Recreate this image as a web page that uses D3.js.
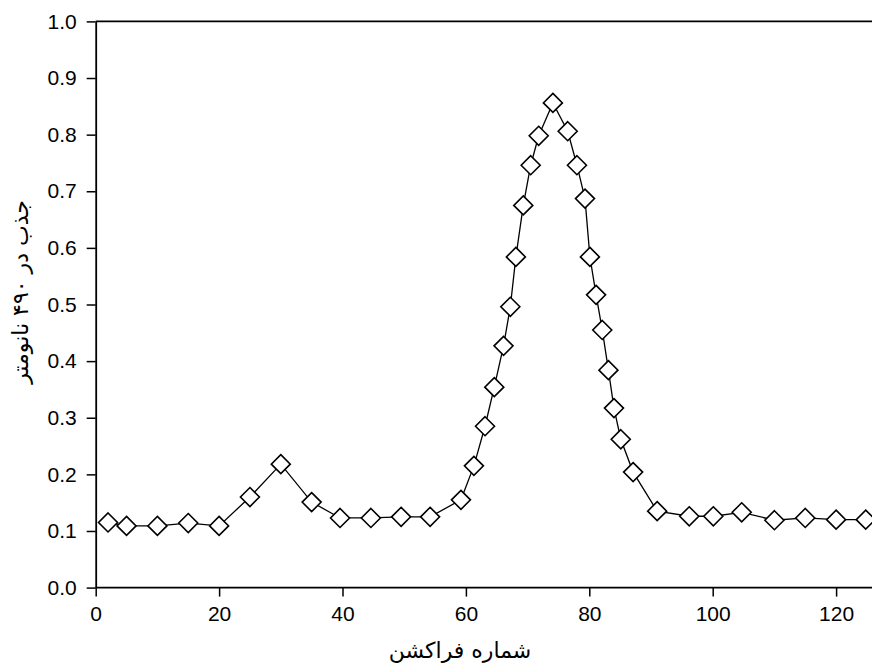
<!DOCTYPE html>
<html>
<head>
<meta charset="utf-8">
<script src="https://cdn.jsdelivr.net/npm/d3@7"></script>
<style>
  body { margin: 0; background: #fff; }
  svg { display: block; }
</style>
</head>
<body>
<div class="chart"></div>
<script>
var svgWidth = 872;
var svgHeight = 666;

// fraction number and absorbance at 490 nm
var fractions = [2, 5, 10, 15, 20, 25, 30, 35, 39.6, 44.6, 49.5, 54.2, 59.2, 61.3, 63.1, 64.6,
  66.1, 67.2, 68.1, 69.3, 70.5, 71.8, 74.1, 76.5, 78, 79.3, 80.1, 81.1, 82.1, 83.1, 84, 85.1,
  87.1, 91, 96.2, 100.1, 104.7, 110, 115, 120, 124.8];
var absorbance = [0.115, 0.109, 0.109, 0.114, 0.109, 0.16, 0.218, 0.151, 0.123, 0.123, 0.125, 0.125,
  0.155, 0.215, 0.285, 0.354, 0.427, 0.496, 0.584, 0.675, 0.746, 0.798, 0.856, 0.806, 0.746,
  0.687, 0.584, 0.517, 0.455, 0.384, 0.317, 0.262, 0.204, 0.135, 0.126, 0.126, 0.133, 0.119,
  0.123, 0.12, 0.12];
var xTicks = [0, 20, 40, 60, 80, 100, 120];
var yTicks = [0, 0.1, 0.2, 0.3, 0.4, 0.5, 0.6, 0.7, 0.8, 0.9, 1.0];

var data = fractions.map(function(f, i) { return { x: f, y: absorbance[i] }; });

var svg = d3.select(".chart")
  .append("svg")
  .attr("width", svgWidth)
  .attr("height", svgHeight);

// plot area runs off the right edge of the picture
var xScale = d3.scaleLinear().domain([0, 130]).range([95.7, 95.7 + 130 * 6.17]);
var yScale = d3.scaleLinear().domain([0, 1]).range([587.6, 21.4]);

// frame top line
svg.append("line")
  .attr("x1", xScale(0)).attr("x2", svgWidth + 5)
  .attr("y1", yScale(1)).attr("y2", yScale(1))
  .attr("stroke", "#000").attr("stroke-width", 1.8);

var bottomAxis = d3.axisBottom(xScale).tickValues(xTicks).tickFormat(d3.format("d"))
  .tickSize(9).tickSizeOuter(0).tickPadding(9);
var leftAxis = d3.axisLeft(yScale).tickValues(yTicks).tickFormat(d3.format(".1f"))
  .tickSize(9).tickSizeOuter(0).tickPadding(10);

var xAxis = svg.append("g")
  .attr("transform", `translate(0, ${yScale(0)})`)
  .call(bottomAxis);
var yAxis = svg.append("g")
  .attr("transform", `translate(${xScale(0)}, 0)`)
  .call(leftAxis);

[xAxis, yAxis].forEach(function(a) {
  a.attr("font-family", "'Liberation Sans', Arial, sans-serif").attr("font-size", 21);
  a.select(".domain").attr("stroke", "#000").attr("stroke-width", 1.8);
  a.selectAll(".tick line").attr("stroke", "#000").attr("stroke-width", 1.5);
  a.selectAll(".tick text").attr("fill", "#000");
});
// x axis line continues to the right edge
xAxis.select(".domain").attr("d", `M${xScale(0)},0H${svgWidth + 5}`);

// line
var line = d3.line().x(d => xScale(d.x)).y(d => yScale(d.y));
svg.append("path")
  .datum(data)
  .attr("d", line)
  .attr("fill", "none")
  .attr("stroke", "#000")
  .attr("stroke-width", 1.3);

// diamond markers
var r = 9.5;
svg.selectAll(".marker")
  .data(data)
  .enter()
  .append("path")
  .attr("class", "marker")
  .attr("d", `M0,${-r}L${r},0L0,${r}L${-r},0Z`)
  .attr("transform", d => `translate(${xScale(d.x)}, ${yScale(d.y)})`)
  .attr("fill", "#fff")
  .attr("stroke", "#000")
  .attr("stroke-width", 1.6);

// axis titles
svg.append("text")
  .attr("x", 460)
  .attr("y", 658)
  .attr("text-anchor", "middle")
  .attr("font-family", "'DejaVu Sans', sans-serif")
  .attr("font-size", 22)
  .text("شماره فراکشن");

svg.append("text")
  .attr("transform", "translate(28, 292) rotate(-90)")
  .attr("text-anchor", "middle")
  .attr("font-family", "'DejaVu Sans', sans-serif")
  .attr("font-size", 22)
  .text("جذب در ۴۹۰ نانومتر");
</script>
</body>
</html>
